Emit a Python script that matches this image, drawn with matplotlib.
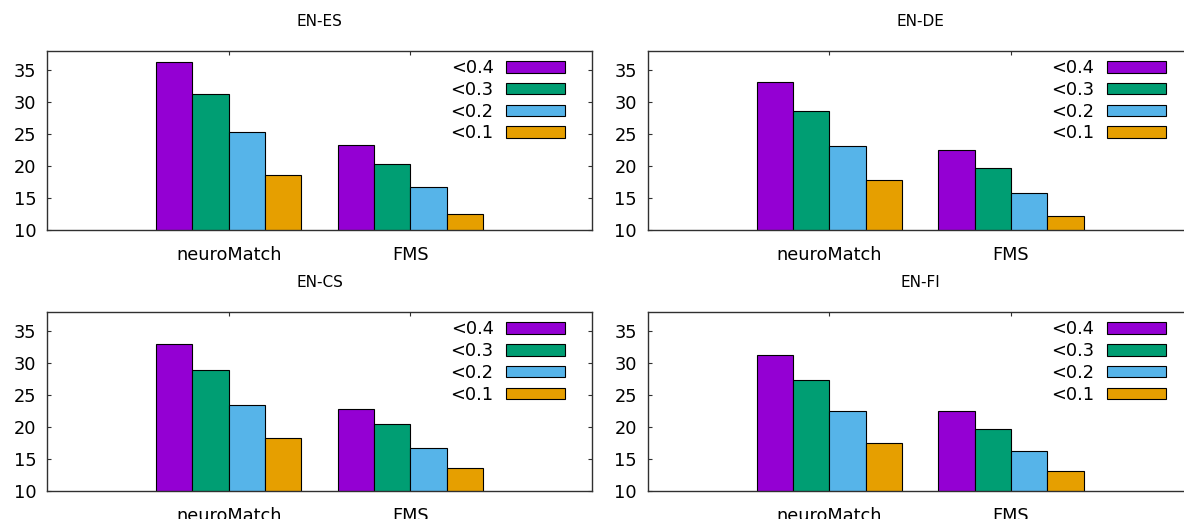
import matplotlib
matplotlib.use("Agg")
import matplotlib.pyplot as plt
import numpy as np

plt.rcParams['font.family'] = ['DejaVu Sans']

# data
methods = ["neuroMatch", "FMS"]
thresholds = ["<0.4", "<0.3", "<0.2", "<0.1"]
colors = ["#9400d3", "#009e73", "#56b4e9", "#e69f00"]

titles = ["EN-ES", "EN-DE", "EN-CS", "EN-FI"]
# rows = threshold, cols = method
en_es = [[36.3, 23.3], [31.3, 20.3], [25.4, 16.8], [18.7, 12.6]]
en_de = [[33.1, 22.5], [28.6, 19.7], [23.2, 15.8], [17.8, 12.3]]
en_cs = [[33.0, 22.9], [29.0, 20.6], [23.5, 16.8], [18.4, 13.7]]
en_fi = [[31.3, 22.5], [27.4, 19.8], [22.5, 16.3], [17.5, 13.2]]
panels = [en_es, en_de, en_cs, en_fi]

W, H = 1184, 519
fig = plt.figure(figsize=(W / 100, H / 100), dpi=100)

# axes boxes in pixels: left, top, width, height
boxes = [(47.3, 51, 544.4, 179.3), (648, 51, 544.4, 179.3),
         (47.3, 312.3, 544.4, 179.0), (648, 312.3, 544.4, 179.0)]

fs = 12.8
x = np.arange(len(methods))
bw = 0.2
for box, title, data in zip(boxes, titles, panels):
    l, t, w, h = box
    ax = fig.add_axes([l / W, 1 - (t + h) / H, w / W, h / H])
    for i, (lab, c) in enumerate(zip(thresholds, colors)):
        ax.bar(x + (i - 1.5) * bw, data[i], bw, bottom=0, color=c,
               edgecolor="black", linewidth=0.8, label=lab)
    ax.set_xlim(-1, 2)
    ax.set_ylim(10, 38)
    ax.set_yticks([10, 15, 20, 25, 30, 35])
    ax.set_xticks(x)
    ax.set_xticklabels(methods)
    ax.tick_params(direction="in", top=True, right=True, length=3,
                   width=0.8, labelsize=fs, colors="#303030")
    ax.tick_params(axis="x", pad=11.5, labelcolor="black", bottom=False)
    ax.tick_params(axis="y", pad=8, labelcolor="black")
    for s in ax.spines.values():
        s.set_linewidth(1.0)
        s.set_color("#303030")
    ax.legend(loc="upper right", bbox_to_anchor=(1 - 26.7 / w, 1 - 8 / h),
              frameon=False, markerfirst=False, fontsize=fs,
              handlelength=3.3, handleheight=0.62, handletextpad=0.72,
              labelspacing=0.215, borderaxespad=0, borderpad=0)
    fig.text((l + w / 2) / W, 1 - (t - 29.5) / H, title, ha="center",
             va="center", fontsize=11)

fig.savefig("out.png", dpi=100)
